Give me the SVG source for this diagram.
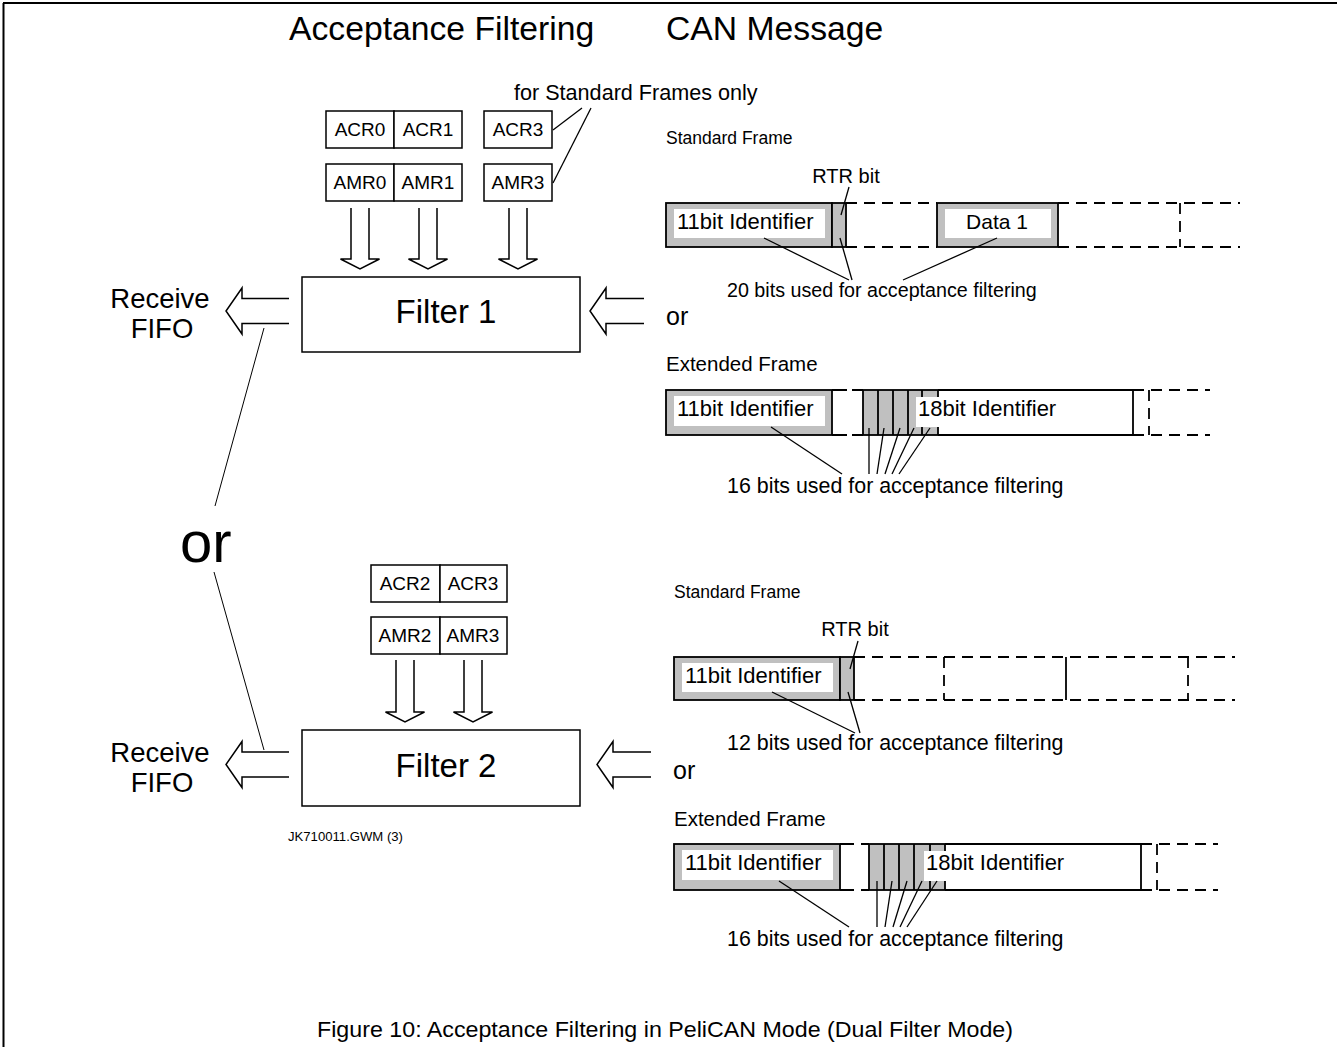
<svg xmlns="http://www.w3.org/2000/svg" width="1337" height="1047" viewBox="0 0 1337 1047">
  <style>
    text { font-family: "Liberation Sans", Arial, sans-serif; fill: #000; }
    .title { font-size: 33.7px; }
    .big { font-size: 33px; text-anchor: middle; }
    .fifo { font-size: 27.5px; text-anchor: middle; }
    .reg { font-size: 19px; text-anchor: middle; }
    .lbl { font-size: 17.5px; }
    .elbl { font-size: 20.5px; }
    .txt { font-size: 20px; }
    .note { font-size: 21.4px; }
    .field { font-size: 22px; }
    .ctr { text-anchor: middle; }
    .box { fill: #fff; stroke: #000; stroke-width: 1.5; }
    .gray { fill: #c0c0c0; stroke: #000; stroke-width: 1.8; }
    .white { fill: #fff; stroke: none; }
    .solid { fill: none; stroke: #000; stroke-width: 1.8; }
    .dash { fill: none; stroke: #000; stroke-width: 1.8; stroke-dasharray: 11 7; }
    .lead { fill: none; stroke: #000; stroke-width: 1.3; }
    .thin { fill: none; stroke: #000; stroke-width: 1; }
    .harrow { fill: #fff; stroke: #000; stroke-width: 1.5; }
  </style>

  <!-- page frame -->
  <g id="frame">
    <line x1="3" y1="3" x2="1337" y2="3" stroke="#000" stroke-width="2"/>
    <line x1="3.5" y1="3" x2="3.5" y2="1047" stroke="#000" stroke-width="2"/>
  </g>

  <g id="headings">
    <text class="title" x="289" y="40">Acceptance Filtering</text>
    <text class="title" x="666" y="40">CAN Message</text>
  </g>

  <!-- filter 1 registers -->
  <g id="regs1">
    <rect class="box" x="326" y="111" width="68" height="37"/>
    <rect class="box" x="394" y="111" width="68" height="37"/>
    <rect class="box" x="484" y="111" width="68" height="37"/>
    <rect class="box" x="326" y="164" width="68" height="37"/>
    <rect class="box" x="394" y="164" width="68" height="37"/>
    <rect class="box" x="484" y="164" width="68" height="37"/>
    <text class="reg" x="360" y="136">ACR0</text>
    <text class="reg" x="428" y="136">ACR1</text>
    <text class="reg" x="518" y="136">ACR3</text>
    <text class="reg" x="360" y="189">AMR0</text>
    <text class="reg" x="428" y="189">AMR1</text>
    <text class="reg" x="518" y="189">AMR3</text>
    <text x="514" y="100" style="font-size:21.6px">for Standard Frames only</text>
  </g>

  <g id="filter1">
    <rect class="box" x="302" y="277" width="278" height="75"/>
    <text class="big" x="446" y="323">Filter 1</text>
  </g>
  <g id="fifo1">
    <text class="fifo" x="160" y="308">Receive</text>
    <text class="fifo" x="162" y="338">FIFO</text>
  </g>
  <text x="666" y="325" style="font-size:25px">or</text>

  <!-- filter 2 registers -->
  <g id="regs2">
    <rect class="box" x="371" y="565" width="69" height="37"/>
    <rect class="box" x="440" y="565" width="67" height="37"/>
    <rect class="box" x="371" y="617" width="69" height="37"/>
    <rect class="box" x="440" y="617" width="67" height="37"/>
    <text class="reg" x="405" y="590">ACR2</text>
    <text class="reg" x="473" y="590">ACR3</text>
    <text class="reg" x="405" y="642">AMR2</text>
    <text class="reg" x="473" y="642">AMR3</text>
  </g>

  <g id="filter2">
    <rect class="box" x="302" y="730" width="278" height="76"/>
    <text class="big" x="446" y="777">Filter 2</text>
  </g>
  <g id="fifo2">
    <text class="fifo" x="160" y="762">Receive</text>
    <text class="fifo" x="162" y="792">FIFO</text>
  </g>
  <text x="673" y="779" style="font-size:25px">or</text>

  <text x="180" y="562" style="font-size:58px">or</text>
  <text x="288" y="841" style="font-size:12px" textLength="115" lengthAdjust="spacingAndGlyphs">JK710011.GWM (3)</text>

  <!-- standard frame, filter 1 -->
  <g id="std1">
    <text class="lbl" x="666" y="144">Standard Frame</text>
    <text class="txt ctr" x="846" y="183">RTR bit</text>
    <rect class="gray" x="666" y="203" width="166" height="44"/>
    <rect class="white" x="674" y="209" width="151" height="29"/>
    <text class="field" x="677" y="229">11bit Identifier</text>
    <rect class="gray" x="832" y="203" width="14" height="44"/>
    <line class="dash" x1="846" y1="203" x2="937" y2="203"/>
    <line class="dash" x1="846" y1="247" x2="937" y2="247"/>
    <rect class="gray" x="937" y="203" width="121" height="44"/>
    <rect class="white" x="945" y="209" width="106" height="29"/>
    <text class="field ctr" x="997" y="229" style="font-size:21px">Data 1</text>
    <line class="dash" x1="1058" y1="203" x2="1240" y2="203"/>
    <line class="dash" x1="1058" y1="247" x2="1240" y2="247"/>
    <line class="dash" x1="1180" y1="203" x2="1180" y2="247"/>
    <text x="727" y="297" style="font-size:19.7px">20 bits used for acceptance filtering</text>
  </g>

  <!-- extended frame, filter 1 -->
  <g id="ext1">
    <text class="elbl" x="666" y="371">Extended Frame</text>
    <rect class="gray" x="666" y="390" width="166" height="45"/>
    <rect class="white" x="674" y="396" width="151" height="30"/>
    <text class="field" x="677" y="416">11bit Identifier</text>
    <path class="solid" d="M832 390 H847 M852 390 H863 M832 435 H847 M852 435 H863"/>
    <rect class="gray" x="863" y="390" width="75" height="45"/>
    <path class="solid" d="M878 390 V435 M893 390 V435 M908 390 V435 M922 390 V435"/>
    <path class="solid" d="M938 390 H1133 V435 H938"/>
    <rect class="white" x="916" y="397" width="150" height="30"/>
    <text class="field" x="918" y="416">18bit Identifier</text>
    <line class="dash" x1="1133" y1="390" x2="1210" y2="390"/>
    <line class="dash" x1="1133" y1="435" x2="1210" y2="435"/>
    <line class="dash" x1="1149" y1="390" x2="1149" y2="435"/>
    <text class="note" x="727" y="493">16 bits used for acceptance filtering</text>
  </g>

  <!-- standard frame, filter 2 -->
  <g id="std2">
    <text class="lbl" x="674" y="598">Standard Frame</text>
    <text class="txt ctr" x="855" y="636">RTR bit</text>
    <rect class="gray" x="674" y="657" width="166" height="43"/>
    <rect class="white" x="682" y="663" width="151" height="29"/>
    <text class="field" x="685" y="683">11bit Identifier</text>
    <rect class="gray" x="840" y="657" width="14" height="43"/>
    <line class="dash" x1="854" y1="657" x2="1235" y2="657"/>
    <line class="dash" x1="854" y1="700" x2="1235" y2="700"/>
    <line class="dash" x1="944" y1="657" x2="944" y2="700"/>
    <line class="solid" x1="1066" y1="657" x2="1066" y2="700"/>
    <line class="dash" x1="1188" y1="657" x2="1188" y2="700"/>
    <text class="note" x="727" y="750">12 bits used for acceptance filtering</text>
  </g>

  <!-- extended frame, filter 2 -->
  <g id="ext2">
    <text class="elbl" x="674" y="826">Extended Frame</text>
    <rect class="gray" x="674" y="844" width="166" height="46"/>
    <rect class="white" x="682" y="850" width="151" height="30"/>
    <text class="field" x="685" y="870">11bit Identifier</text>
    <path class="solid" d="M840 844 H854 M861 844 H869 M840 890 H854 M861 890 H869"/>
    <rect class="gray" x="869" y="844" width="76" height="46"/>
    <path class="solid" d="M884 844 V890 M899 844 V890 M914 844 V890 M930 844 V890"/>
    <path class="solid" d="M945 844 H1141 V890 H945"/>
    <rect class="white" x="924" y="851" width="150" height="30"/>
    <text class="field" x="926" y="870">18bit Identifier</text>
    <line class="dash" x1="1141" y1="844" x2="1218" y2="844"/>
    <line class="dash" x1="1141" y1="890" x2="1218" y2="890"/>
    <line class="dash" x1="1157" y1="844" x2="1157" y2="890"/>
    <text class="note" x="727" y="946">16 bits used for acceptance filtering</text>
  </g>

  <g id="caption">
    <text x="317" y="1037" style="font-size:22px" textLength="696" lengthAdjust="spacingAndGlyphs">Figure 10: Acceptance Filtering in PeliCAN Mode (Dual Filter Mode)</text>
  </g>

  <g id="connectors">
    <!-- register to filter arrows -->
    <path class="harrow" d="M351 208 V259 H340.5 L360 269 L379.5 259 H369 V208"/>
    <path class="harrow" d="M419 208 V259 H408.5 L428 269 L447.5 259 H437 V208"/>
    <path class="harrow" d="M509 208 V259 H498.5 L518 269 L537.5 259 H527 V208"/>
    <path class="harrow" d="M396 660 V712 H385.5 L405 722 L424.5 712 H414 V660"/>
    <path class="harrow" d="M464 660 V712 H453.5 L473 722 L492.5 712 H482 V660"/>
    <!-- filter to FIFO / message to filter -->
    <path class="harrow" d="M289 298.5 H242 V288 L226 311 L242 334 V323.5 H289"/>
    <path class="harrow" d="M644 298.5 H606 V288 L590 311 L606 334 V323.5 H644"/>
    <path class="harrow" d="M289 752 H242 V741.5 L226 764.5 L242 787.5 V777 H289"/>
    <path class="harrow" d="M651 752 H613 V741.5 L597 764.5 L613 787.5 V777 H651"/>
    <!-- or -->
    <line class="thin" x1="264" y1="328" x2="215" y2="506"/>
    <line class="thin" x1="214" y1="572" x2="264" y2="750"/>
    <!-- standard frames only -->
    <line class="lead" x1="582" y1="108" x2="553" y2="130"/>
    <line class="lead" x1="591" y1="108" x2="553" y2="183"/>
    <!-- std1 leaders -->
    <line class="lead" x1="849" y1="187" x2="841" y2="215"/>
    <line class="lead" x1="764" y1="238" x2="849" y2="280"/>
    <line class="lead" x1="840" y1="238" x2="852" y2="280"/>
    <line class="lead" x1="997" y1="238" x2="903" y2="280"/>
    <!-- ext1 leaders -->
    <line class="lead" x1="771" y1="427" x2="842" y2="474"/>
    <line class="lead" x1="869" y1="428" x2="869" y2="474"/>
    <line class="lead" x1="884" y1="428" x2="877" y2="474"/>
    <line class="lead" x1="900" y1="428" x2="885" y2="474"/>
    <line class="lead" x1="914" y1="428" x2="892" y2="474"/>
    <line class="lead" x1="930" y1="428" x2="899" y2="474"/>
    <!-- std2 leaders -->
    <line class="lead" x1="858" y1="641" x2="850" y2="669"/>
    <line class="lead" x1="772" y1="692" x2="855" y2="733"/>
    <line class="lead" x1="848" y1="692" x2="860" y2="733"/>
    <!-- ext2 leaders -->
    <line class="lead" x1="779" y1="881" x2="849" y2="927"/>
    <line class="lead" x1="877" y1="881" x2="877" y2="927"/>
    <line class="lead" x1="892" y1="881" x2="885" y2="927"/>
    <line class="lead" x1="907" y1="881" x2="893" y2="927"/>
    <line class="lead" x1="922" y1="881" x2="900" y2="927"/>
    <line class="lead" x1="937" y1="881" x2="907" y2="927"/>
  </g>
</svg>
